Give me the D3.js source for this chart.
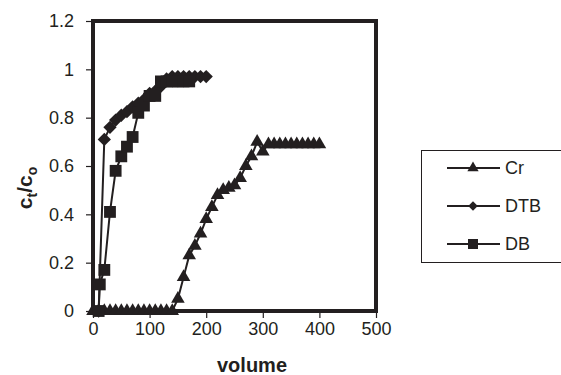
<!DOCTYPE html>
<html><head><meta charset="utf-8">
<script src="https://cdn.jsdelivr.net/npm/d3@7/dist/d3.min.js"></script>
<style>body{margin:0;background:#fff;}svg{display:block;font-family:"Liberation Sans",Arial,sans-serif;}</style>
</head><body>
<svg id="c" width="561" height="375"></svg>
<script>
// ---- data ----
const crX = [0,10,20,30,40,50,60,70,80,90,100,110,120,130,140,150,160,170,180,190,200,210,220,230,240,250,260,270,280,290,300,310,320,330,340,350,360,370,380,390,400];
const crY = [0,0,0,0,0,0,0,0,0,0,0,0,0,0,0,0.05,0.14,0.23,0.27,0.32,0.38,0.43,0.48,0.50,0.51,0.52,0.55,0.60,0.64,0.70,0.66,0.69,0.69,0.69,0.69,0.69,0.69,0.69,0.69,0.69,0.69];
const dtbX = [10,20,30,40,50,60,70,80,90,100,110,120,130,140,150,160,170,180,190,200];
const dtbY = [0,0.71,0.76,0.79,0.81,0.825,0.845,0.86,0.875,0.90,0.91,0.93,0.96,0.97,0.97,0.97,0.97,0.97,0.97,0.97];
const dbX = [10,12,20,30,40,50,60,70,80,90,100,110,120,130,140,150,160,170];
const dbY = [0,0.11,0.17,0.41,0.58,0.64,0.68,0.72,0.82,0.85,0.89,0.89,0.95,0.95,0.95,0.95,0.95,0.95];
const xTicks = [0,100,200,300,400,500];
const yTicks = [0,0.2,0.4,0.6,0.8,1,1.2];
const seriesNames = ["Cr","DTB","DB"];

const ink = "#231f20";
const svg = d3.select("#c");
const x = d3.scaleLinear().domain([0,500]).range([93,376]);
const y = d3.scaleLinear().domain([0,1.2]).range([311,21]);

// axes
const ya = svg.append("g").attr("transform","translate(93,0)")
  .call(d3.axisLeft(y).tickValues(yTicks).tickSize(7).tickPadding(12).tickFormat(d=>String(d)));
const xa = svg.append("g").attr("transform","translate(0,311)")
  .call(d3.axisBottom(x).tickValues(xTicks).tickSize(7).tickPadding(4).tickFormat(d=>String(d)));
[ya,xa].forEach(a=>{
  a.select(".domain").remove();
  a.selectAll("line").attr("stroke",ink).attr("stroke-width",1.2);
  a.selectAll("text").attr("fill",ink).style("font-size","18px");
});

// frame
svg.append("rect").attr("x",x(0)).attr("y",y(1.2)).attr("width",x(500)-x(0)).attr("height",y(0)-y(1.2))
  .attr("fill","none").attr("stroke",ink).attr("stroke-width",4);

const sym = {
  Cr: d3.symbol().type(d3.symbolTriangle).size(80),
  DTB: d3.symbol().type(d3.symbolSquare).size(88),
  DB: d3.symbol().type(d3.symbolSquare).size(140)
};
const rot = {Cr:0, DTB:45, DB:0};
const series = [
  {name:"Cr", xs:crX, ys:crY},
  {name:"DTB", xs:dtbX, ys:dtbY},
  {name:"DB", xs:dbX, ys:dbY}
];
const line = d3.line().x(d=>x(d[0])).y(d=>y(d[1]));
series.forEach(s=>{
  const pts = s.xs.map((v,i)=>[v,s.ys[i]]);
  svg.append("path").attr("d",line(pts)).attr("fill","none").attr("stroke",ink).attr("stroke-width",2);
  svg.append("g").selectAll("path").data(pts).join("path")
    .attr("d",sym[s.name]())
    .attr("transform",d=>`translate(${x(d[0])},${y(d[1])}) rotate(${rot[s.name]})`)
    .attr("fill",ink);
});

// axis titles
svg.append("text").attr("x",252).attr("y",372).attr("text-anchor","middle")
  .attr("font-weight","bold").style("font-size","20px").attr("fill",ink).text("volume");
const yt = svg.append("text").attr("transform","translate(32,188) rotate(-90)").attr("text-anchor","middle")
  .attr("font-weight","bold").style("font-size","21px").attr("fill",ink);
yt.append("tspan").text("c");
yt.append("tspan").attr("dy",5).style("font-size","14px").text("t");
yt.append("tspan").attr("dy",-5).text("/c");
yt.append("tspan").attr("dy",5).style("font-size","14px").text("o");

// legend
const lg = svg.append("g");
lg.append("rect").attr("x",421.5).attr("y",150.5).attr("width",150).attr("height",112)
  .attr("fill","none").attr("stroke",ink).attr("stroke-width",1);
const lsym = {
  Cr: d3.symbol().type(d3.symbolTriangle).size(55),
  DTB: d3.symbol().type(d3.symbolSquare).size(45),
  DB: d3.symbol().type(d3.symbolSquare).size(100)
};
seriesNames.forEach((n,i)=>{
  const cy = 168 + i*38;
  lg.append("line").attr("x1",447).attr("x2",500).attr("y1",cy).attr("y2",cy).attr("stroke",ink).attr("stroke-width",2);
  lg.append("path").attr("d",lsym[n]()).attr("transform",`translate(473,${cy}) rotate(${rot[n]})`).attr("fill",ink);
  lg.append("text").attr("x",505).attr("y",cy).attr("dy","0.35em").style("font-size","18px").attr("fill",ink).text(n);
});
</script>
</body></html>
